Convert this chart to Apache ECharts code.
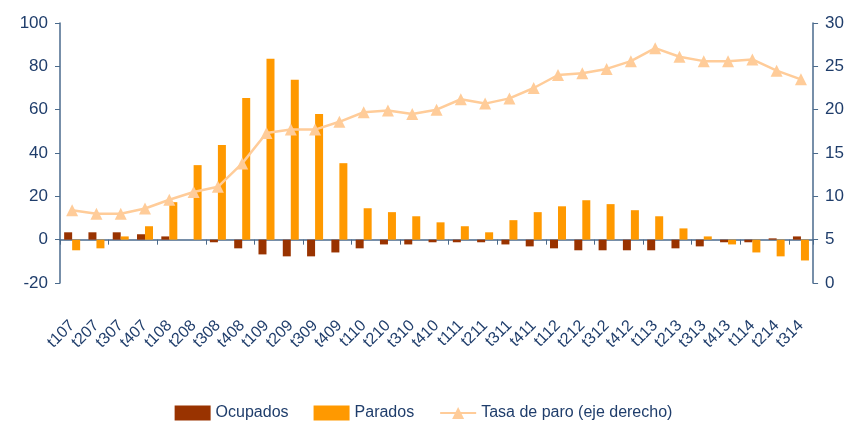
<!DOCTYPE html>
<html>
<head>
<meta charset="utf-8">
<script src="https://cdn.jsdelivr.net/npm/echarts@6/dist/echarts.min.js"></script>
<style>
  html, body { margin: 0; padding: 0; background: #fff; }
  #chart { width: 847px; height: 422px; }
</style>
</head>
<body>
<div id="chart"></div>
<script>
// trimestres
var categories = ["t107", "t207", "t307", "t407", "t108", "t208", "t308", "t408",
  "t109", "t209", "t309", "t409", "t110", "t210", "t310", "t410",
  "t111", "t211", "t311", "t411", "t112", "t212", "t312", "t412",
  "t113", "t213", "t313", "t413", "t114", "t214", "t314"];

var ocupados = [3.4, 3.4, 3.4, 2.5, 1.5, 0, -1.2, -4, -6.8, -7.7, -7.7, -5.9, -4, -2.2, -2.2, -1.2,
  -1.2, -1.2, -2.2, -3.1, -4, -4.9, -4.9, -4.9, -4.9, -4, -3.1, -1.2, -1.2, 0.6, 1.5];

var parados = [-4.9, -4, 1.5, 6.2, 17.3, 34.4, 43.7, 65.4, 83.5, 73.8, 58, 35.3, 14.5, 12.7, 10.8, 8,
  6.2, 3.4, 9, 12.7, 15.4, 18.2, 16.4, 13.6, 10.8, 5.2, 1.5, -2.2, -5.9, -7.7, -9.6];

var tasaParo = [8.4, 8.0, 8.0, 8.6, 9.6, 10.5, 11.1, 13.8, 17.3, 17.7, 17.7, 18.6, 19.7, 19.9, 19.5, 20.0,
  21.2, 20.7, 21.3, 22.5, 24.0, 24.2, 24.7, 25.6, 27.1, 26.1, 25.6, 25.6, 25.8, 24.5, 23.5];

var leftTicks = [-20, 0, 20, 40, 60, 80, 100];
var rightTicks = [0, 5, 10, 15, 20, 25, 30];

var navy = "#1F3D6B";
var axisColor = "#4A6A8C";
var font = "'Liberation Sans', Arial, sans-serif";

var chart = echarts.init(document.getElementById("chart"));
var option = {
  animation: false,
  textStyle: { fontFamily: font },
  grid: { left: 60, right: 32, top: 23, bottom: 139 },
  legend: {
    top: 400,
    left: "center",
    itemGap: 25,
    itemWidth: 36,
    itemHeight: 15,
    textStyle: { color: navy, fontSize: 16, fontFamily: font },
    data: [
      { name: "Ocupados", icon: "rect" },
      { name: "Parados", icon: "rect" },
      "Tasa de paro (eje derecho)"
    ]
  },
  xAxis: [
    {
      type: "category",
      data: categories,
      position: "bottom",
      axisLine: { show: false, onZero: false },
      axisTick: { show: false },
      axisLabel: { color: navy, fontSize: 16, rotate: 45, margin: 40, interval: 0, fontFamily: font }
    },
    {
      type: "category",
      data: categories,
      position: "bottom",
      axisLine: { show: true, onZero: true, onZeroAxisIndex: 0, lineStyle: { color: axisColor, width: 1.5 } },
      axisTick: { show: true, length: 5, lineStyle: { color: axisColor } },
      axisLabel: { show: false }
    }
  ],
  yAxis: [
    {
      type: "value",
      min: leftTicks[0],
      max: leftTicks[leftTicks.length - 1],
      interval: 20,
      splitLine: { show: false },
      axisLine: { show: true, lineStyle: { color: axisColor, width: 1.5 } },
      axisTick: { show: true, length: 5, lineStyle: { color: axisColor } },
      axisLabel: { color: navy, fontSize: 17, margin: 12, fontFamily: font }
    },
    {
      type: "value",
      position: "right",
      min: rightTicks[0],
      max: rightTicks[rightTicks.length - 1],
      interval: 5,
      splitLine: { show: false },
      axisLine: { show: true, lineStyle: { color: axisColor, width: 1.5 } },
      axisTick: { show: true, length: 5, lineStyle: { color: axisColor } },
      axisLabel: { color: navy, fontSize: 17, margin: 12, fontFamily: font }
    }
  ],
  series: [
    {
      name: "Ocupados",
      type: "bar",
      data: ocupados,
      barWidth: 8,
      barGap: "0%",
      itemStyle: { color: "#993300" }
    },
    {
      name: "Parados",
      type: "bar",
      data: parados,
      barWidth: 8,
      barGap: "0%",
      itemStyle: { color: "#FF9900" }
    },
    {
      name: "Tasa de paro (eje derecho)",
      type: "line",
      yAxisIndex: 1,
      data: tasaParo,
      symbol: "triangle",
      symbolSize: 12,
      lineStyle: { color: "#FFCC99", width: 2.5 },
      itemStyle: { color: "#FFCC99" }
    }
  ]
};
chart.setOption(option);
</script>
</body>
</html>
